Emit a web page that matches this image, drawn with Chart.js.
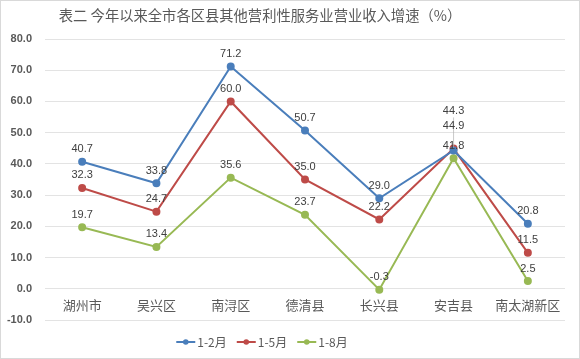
<!DOCTYPE html>
<html>
<head>
<meta charset="utf-8">
<script src="https://cdn.jsdelivr.net/npm/chart.js@4"></script>
<style>
  html, body { margin: 0; padding: 0; background: #fff; }
  #wrap { position: relative; width: 578px; height: 357px; border: 1px solid #d9d9d9; }
</style>
</head>
<body>
<div id="wrap"><canvas id="c"></canvas></div>
<script>
const categories = ['湖州市', '吴兴区', '南浔区', '德清县', '长兴县', '安吉县', '南太湖新区'];
const seriesNames = ['1-2月', '1-5月', '1-8月'];
const jan2Feb = [40.7, 33.8, 71.2, 50.7, 29.0, 44.3, 20.8];
const jan2May = [32.3, 24.7, 60.0, 35.0, 22.2, 44.9, 11.5];
const jan2Aug = [19.7, 13.4, 35.6, 23.7, -0.3, 41.8, 2.5];
const yTicks = [80, 70, 60, 50, 40, 30, 20, 10, 0, -10];
const titleText = '表二 今年以来全市各区县其他营利性服务业营业收入增速（%）';

const colors = ['#4a7ebb', '#be4b48', '#98b954'];
const textColor = '#595959';
const cjk = '"Noto Sans CJK SC", sans-serif';

// value labels above points; the 安吉县 ones are stacked so they don't collide
const labelLift = { '0-5': 34, '1-5': 17 };
const valueLabels = {
  id: 'valueLabels',
  afterDatasetsDraw(chart) {
    const ctx = chart.ctx;
    ctx.save();
    ctx.font = '11px "Liberation Sans", sans-serif';
    ctx.fillStyle = '#404040';
    ctx.textAlign = 'center';
    ctx.textBaseline = 'bottom';
    chart.data.datasets.forEach((ds, di) => {
      chart.getDatasetMeta(di).data.forEach((pt, i) => {
        const lift = labelLift[di + '-' + i] || 7;
        if (lift > 20) {
          ctx.strokeStyle = '#b0b0b0'; ctx.lineWidth = 0.7;
          ctx.beginPath(); ctx.moveTo(pt.x, pt.y - 3); ctx.lineTo(pt.x, pt.y - lift + 1); ctx.stroke();
        }
        ctx.fillText(ds.data[i].toFixed(1), pt.x, pt.y - lift);
      });
    });
    ctx.restore();
  }
};

// title + legend drawn by hand to match the Excel placement
const decor = {
  id: 'decor',
  afterDraw(chart) {
    const ctx = chart.ctx;
    ctx.save();
    ctx.fillStyle = textColor;
    ctx.font = '14.3px ' + cjk;
    ctx.textAlign = 'center';
    ctx.textBaseline = 'middle';
    ctx.fillText(titleText, 259, 15);

    ctx.font = '12px ' + cjk;
    ctx.textAlign = 'left';
    const iconW = 19, gap = 2, itemGap = 10, y = 341;
    const widths = seriesNames.map(s => iconW + gap + ctx.measureText(s).width);
    const total = widths.reduce((a, b) => a + b, 0) + itemGap * (widths.length - 1);
    let x = 261 - total / 2;
    seriesNames.forEach((s, i) => {
      ctx.strokeStyle = colors[i]; ctx.fillStyle = colors[i]; ctx.lineWidth = 2;
      ctx.beginPath(); ctx.moveTo(x, y); ctx.lineTo(x + iconW, y); ctx.stroke();
      ctx.beginPath(); ctx.arc(x + iconW / 2, y, 2.8, 0, Math.PI * 2); ctx.fill();
      ctx.fillStyle = textColor;
      ctx.fillText(s, x + iconW + gap, y);
      x += widths[i] + itemGap;
    });
    ctx.restore();
  }
};

const series = [jan2Feb, jan2May, jan2Aug];

new Chart(document.getElementById('c'), {
  type: 'line',
  data: {
    labels: categories,
    datasets: series.map((d, i) => ({
      label: seriesNames[i],
      data: d,
      borderColor: colors[i],
      backgroundColor: colors[i],
      borderWidth: 2,
      pointRadius: 3,
      pointHoverRadius: 3,
      tension: 0
    }))
  },
  options: {
    responsive: true,
    maintainAspectRatio: false,
    animation: false,
    layout: { padding: { left: 0, right: 14, top: 38, bottom: 38 } },
    scales: {
      x: {
        position: { y: 0 },
        offset: true,
        grid: { display: false },
        border: { display: false },
        ticks: { color: textColor, font: { family: cjk, size: 13 }, padding: 0, maxRotation: 0, autoSkip: false }
      },
      y: {
        min: -10,
        max: 80,
        afterBuildTicks: axis => { axis.ticks = yTicks.map(v => ({ value: v })); },
        afterFit: axis => { axis.width = 44; },
        grid: { color: '#e3e3e3', drawTicks: false },
        border: { display: false },
        ticks: {
          color: textColor,
          font: { family: '"Liberation Sans", sans-serif', size: 11, weight: 'bold' },
          padding: 13,
          callback: v => v.toFixed(1)
        }
      }
    },
    plugins: {
      legend: { display: false },
      title: { display: false },
      tooltip: { enabled: false }
    }
  },
  plugins: [valueLabels, decor]
});
</script>
</body>
</html>
